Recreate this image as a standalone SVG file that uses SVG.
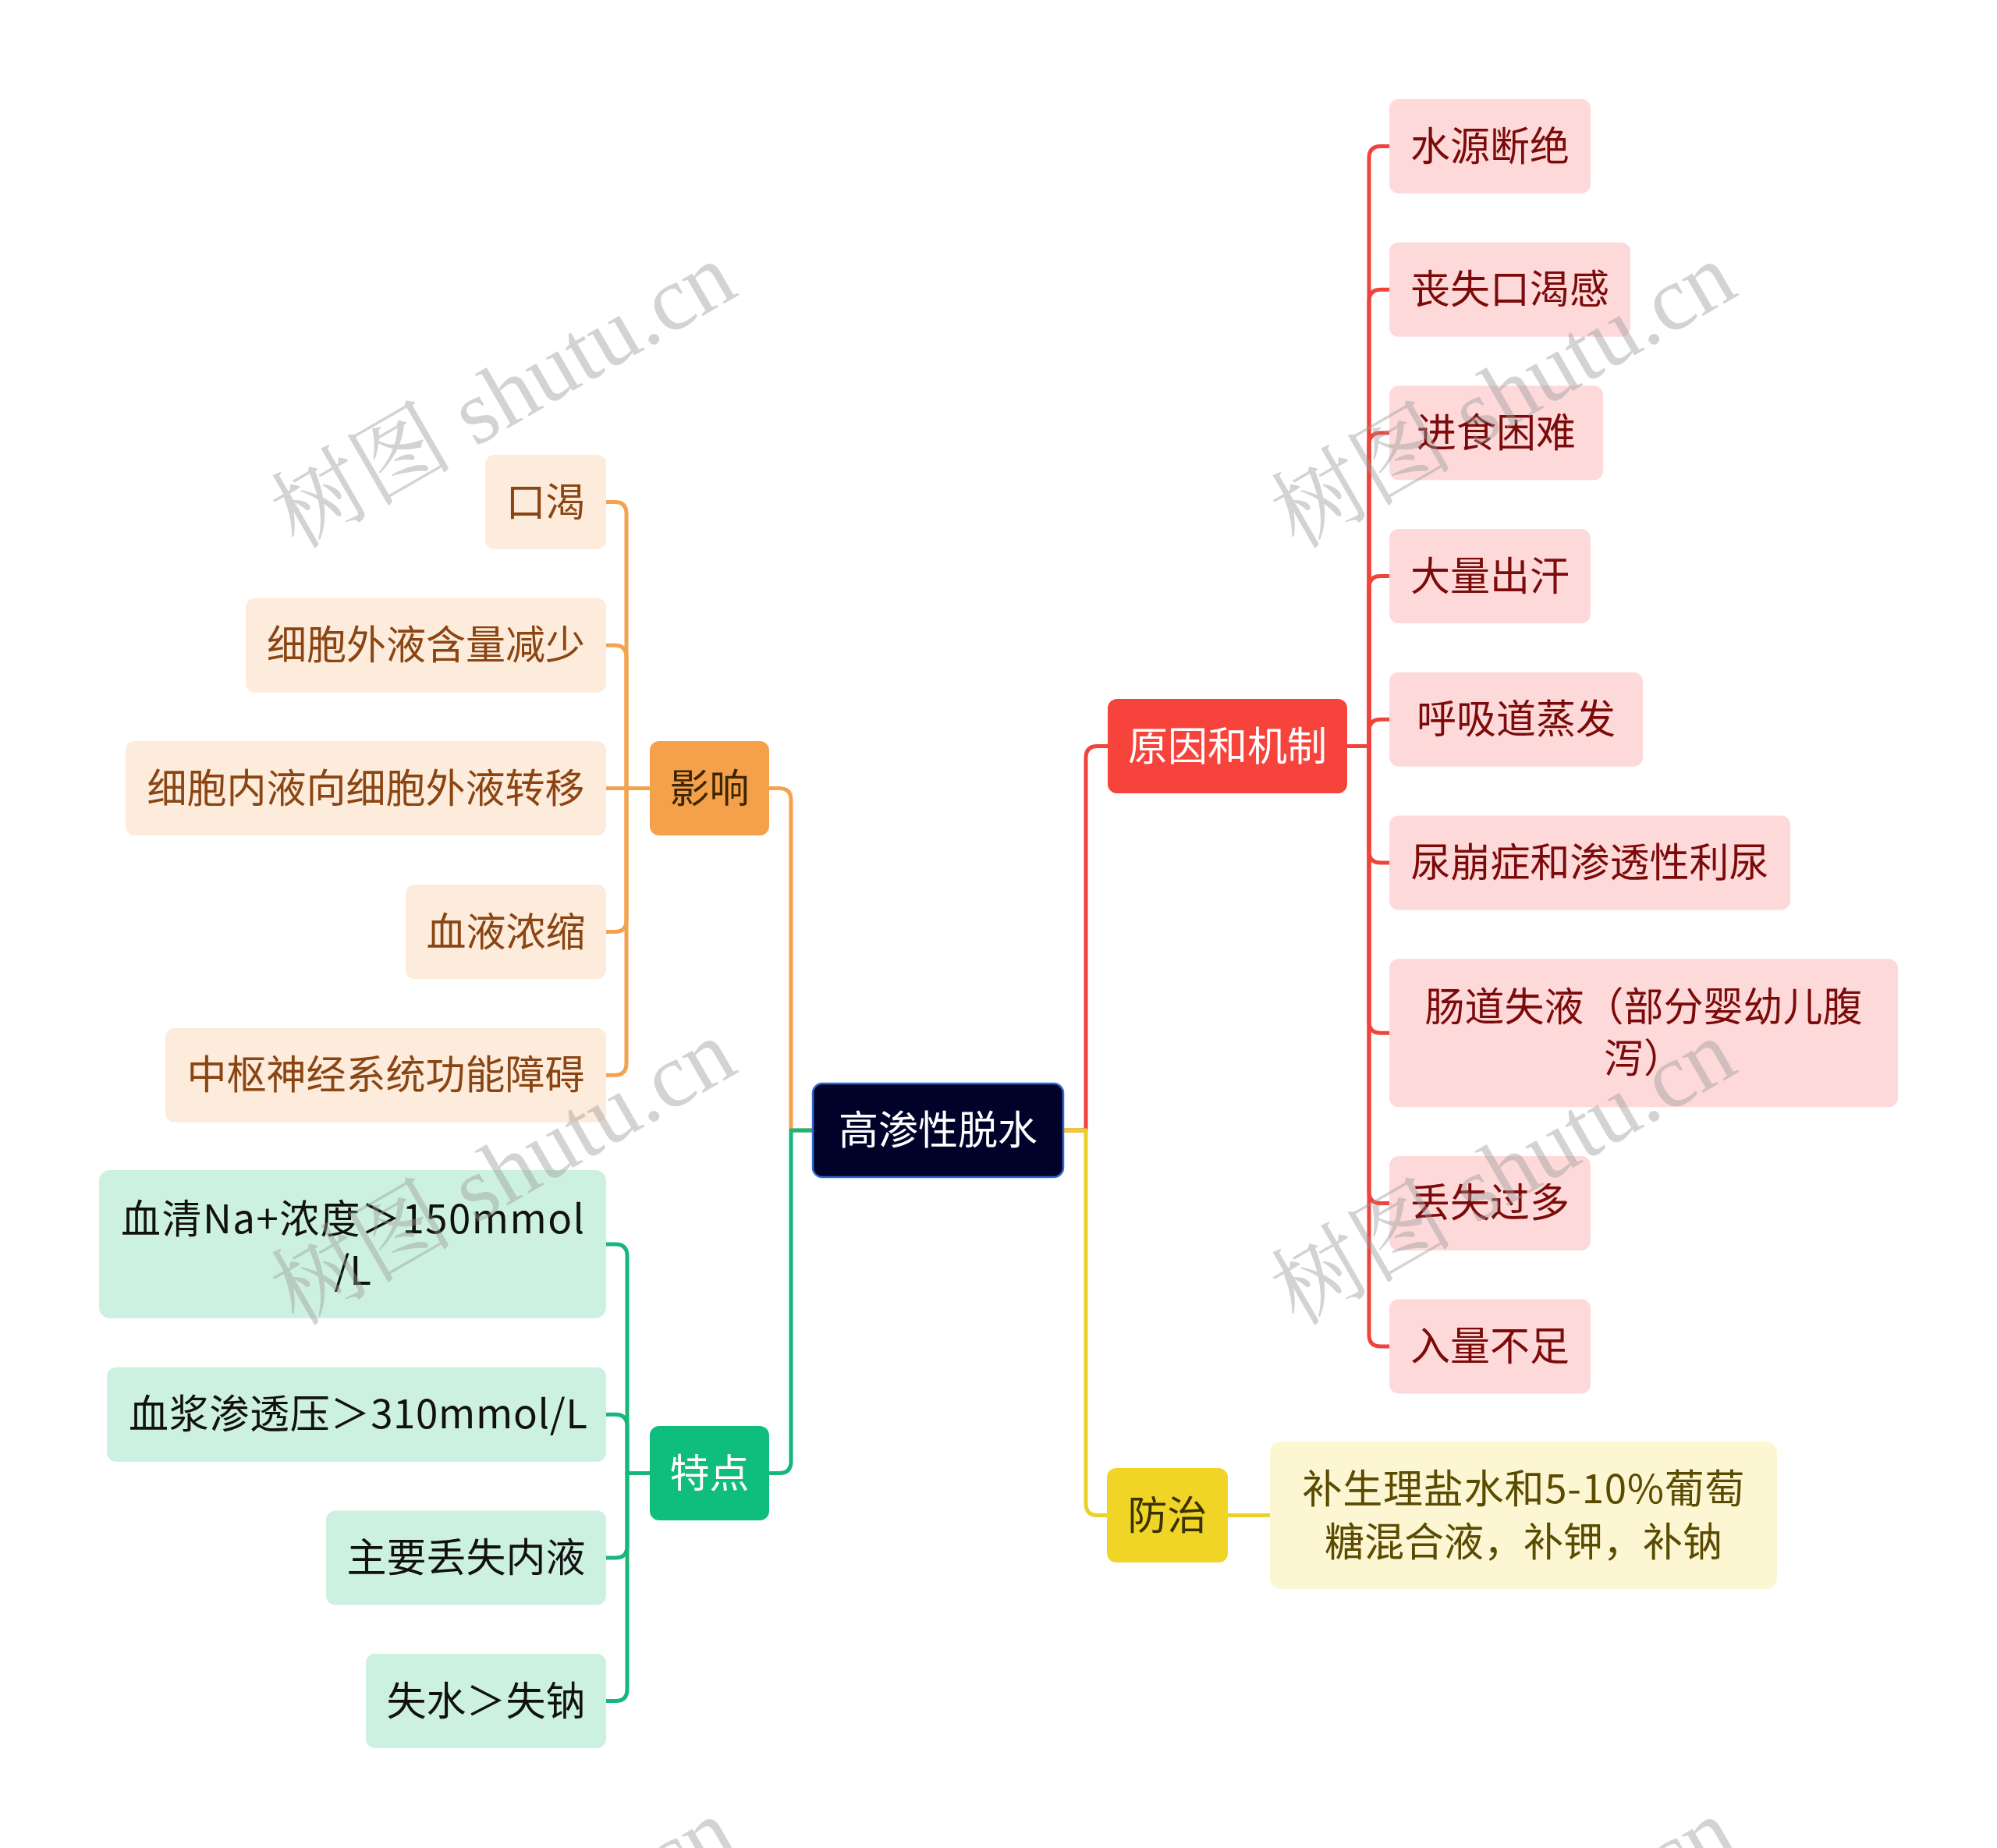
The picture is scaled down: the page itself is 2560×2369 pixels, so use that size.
<svg xmlns="http://www.w3.org/2000/svg" width="2560" height="2369" viewBox="0 0 2560 2369">
<style>
text{font-family:"Noto Sans CJK SC","Microsoft YaHei",sans-serif;font-size:51px;text-anchor:middle}
.ln{fill:none;stroke-width:5;stroke-linecap:round;stroke-linejoin:round}
.red{stroke:#f0433b}.org{stroke:#f3a24e}.grn{stroke:#15b77a}.yel{stroke:#ecd02a}
.lr{fill:#fddad9}.tr{fill:#7c0a0a}
.lo{fill:#fdebdb}.to{fill:#8b4513}
.lg{fill:#cdf1e1}.tg{fill:#111111}
.ly{fill:#fcf6d3}.ty{fill:#5b4b00}
.wm{font-family:"Liberation Serif","Noto Serif CJK SC","Noto Sans CJK SC",serif;font-size:117px;fill:#999999;opacity:0.42}
</style>
<rect width="2560" height="2369" fill="#ffffff"/>
<g id="connectors">
<path class="ln red" d="M1363 1449 H1392 V971.5 Q1392 956.5 1407 956.5 H1420"/>
<path class="ln yel" d="M1363 1449 H1392 V1927.5 Q1392 1942.5 1407 1942.5 H1419"/>
<path class="ln yel" d="M1574 1942.5 H1628"/>
<path class="ln org" d="M1042 1449 H1014 V1025.5 Q1014 1010.5 999 1010.5 H986"/>
<path class="ln grn" d="M1042 1449 H1014 V1873.5 Q1014 1888.5 999 1888.5 H986"/>
<path class="ln org" d="M833 1010.5 H803 V658.5 Q803 643.5 788 643.5 H777"/>
<path class="ln org" d="M833 1010.5 H803 V842.2 Q803 827.2 788 827.2 H777"/>
<path class="ln org" d="M833 1010.5 H777"/>
<path class="ln org" d="M833 1010.5 H803 V1179.5 Q803 1194.5 788 1194.5 H777"/>
<path class="ln org" d="M833 1010.5 H803 V1363.3 Q803 1378.3 788 1378.3 H777"/>
<path class="ln grn" d="M833 1888.5 H804 V1610 Q804 1595 789 1595 H777"/>
<path class="ln grn" d="M833 1888.5 H804 V1828.2 Q804 1813.2 789 1813.2 H777"/>
<path class="ln grn" d="M833 1888.5 H804 V1981.9 Q804 1996.9 789 1996.9 H777"/>
<path class="ln grn" d="M833 1888.5 H804 V2165.6 Q804 2180.6 789 2180.6 H777"/>
<path class="ln red" d="M1727 956.5 H1755 V202.5 Q1755 187.5 1770 187.5 H1781"/>
<path class="ln red" d="M1727 956.5 H1755 V386.2 Q1755 371.2 1770 371.2 H1781"/>
<path class="ln red" d="M1727 956.5 H1755 V569.9 Q1755 554.9 1770 554.9 H1781"/>
<path class="ln red" d="M1727 956.5 H1755 V753.5 Q1755 738.5 1770 738.5 H1781"/>
<path class="ln red" d="M1727 956.5 H1755 V937.3 Q1755 922.3 1770 922.3 H1781"/>
<path class="ln red" d="M1727 956.5 H1755 V1091 Q1755 1106 1770 1106 H1781"/>
<path class="ln red" d="M1727 956.5 H1755 V1309.2 Q1755 1324.2 1770 1324.2 H1781"/>
<path class="ln red" d="M1727 956.5 H1755 V1527.4 Q1755 1542.4 1770 1542.4 H1781"/>
<path class="ln red" d="M1727 956.5 H1755 V1711.1 Q1755 1726.1 1770 1726.1 H1781"/>
</g>
<g id="root"><rect x="1042" y="1389" width="321" height="120" rx="12" fill="#00022a" stroke="#2f6bd1" stroke-width="2.5"/><text x="1202.5" y="1467" fill="#ffffff">高渗性脱水</text></g>
<g id="n-yuanyin"><rect x="1420" y="896" width="307" height="121" rx="12" fill="#f6433b"/><text x="1573.5" y="974.5" fill="#ffffff">原因和机制</text></g>
<g id="n-fangzhi"><rect x="1419" y="1882" width="155" height="121" rx="12" fill="#f0d426"/><text x="1496.5" y="1960.5" fill="#3a3100">防治</text></g>
<g id="n-yingxiang"><rect x="833" y="950" width="153" height="121" rx="12" fill="#f5a04b"/><text x="909.5" y="1028.5" fill="#3b2600">影响</text></g>
<g id="n-tedian"><rect x="833" y="1828" width="153" height="121" rx="12" fill="#0fbe7c"/><text x="909.5" y="1906.5" fill="#ffffff">特点</text></g>

<g id="r1"><rect class="lr" x="1781" y="127" width="258" height="121" rx="12"/><text class="tr" x="1910" y="205.5">水源断绝</text></g>
<g id="r2"><rect class="lr" x="1781" y="310.7" width="309" height="121" rx="12"/><text class="tr" x="1935.5" y="389.2">丧失口渴感</text></g>
<g id="r3"><rect class="lr" x="1781" y="494.4" width="274" height="121" rx="12"/><text class="tr" x="1918" y="572.9">进食困难</text></g>
<g id="r4"><rect class="lr" x="1781" y="678" width="258" height="121" rx="12"/><text class="tr" x="1910" y="756.5">大量出汗</text></g>
<g id="r5"><rect class="lr" x="1781" y="861.8" width="325" height="121" rx="12"/><text class="tr" x="1943.5" y="940.3">呼吸道蒸发</text></g>
<g id="r6"><rect class="lr" x="1781" y="1045.5" width="514" height="121" rx="12"/><text class="tr" x="2038" y="1124">尿崩症和渗透性利尿</text></g>
<g id="r7"><rect class="lr" x="1781" y="1229.2" width="652" height="190" rx="12"/><text class="tr" x="2107" y="1309">肠道失液（部分婴幼儿腹</text><text class="tr" x="2107" y="1375">泻）</text></g>
<g id="r8"><rect class="lr" x="1781" y="1481.9" width="258" height="121" rx="12"/><text class="tr" x="1910" y="1560.4">丢失过多</text></g>
<g id="r9"><rect class="lr" x="1781" y="1665.6" width="258" height="121" rx="12"/><text class="tr" x="1910" y="1744.1">入量不足</text></g>

<g id="y1"><rect class="ly" x="1628" y="1848" width="650" height="189" rx="14"/><text class="ty" x="1953" y="1927" textLength="567" lengthAdjust="spacing">补生理盐水和5-10%葡萄</text><text class="ty" x="1953" y="1995">糖混合液，补钾，补钠</text></g>

<g id="o1"><rect class="lo" x="622" y="583" width="155" height="121" rx="12"/><text class="to" x="699.5" y="661.5">口渴</text></g>
<g id="o2"><rect class="lo" x="315" y="766.7" width="462" height="121" rx="12"/><text class="to" x="546" y="845.2">细胞外液含量减少</text></g>
<g id="o3"><rect class="lo" x="161" y="950" width="616" height="121" rx="12"/><text class="to" x="469" y="1028.5">细胞内液向细胞外液转移</text></g>
<g id="o4"><rect class="lo" x="520" y="1134" width="257" height="121" rx="12"/><text class="to" x="648.5" y="1212.5">血液浓缩</text></g>
<g id="o5"><rect class="lo" x="212" y="1317.8" width="565" height="121" rx="12"/><text class="to" x="494.5" y="1396.3">中枢神经系统功能障碍</text></g>

<g id="g1"><rect class="lg" x="127" y="1500" width="650" height="190" rx="14"/><text class="tg" x="452" y="1581" textLength="594" lengthAdjust="spacing">血清Na+浓度＞150mmol</text><text class="tg" x="452" y="1647">/L</text></g>
<g id="g2"><rect class="lg" x="137" y="1752.7" width="640" height="121" rx="12"/><text class="tg" x="459" y="1831.2" textLength="588" lengthAdjust="spacing">血浆渗透压＞310mmol/L</text></g>
<g id="g3"><rect class="lg" x="418" y="1936.4" width="359" height="121" rx="12"/><text class="tg" x="597.5" y="2014.9">主要丢失内液</text></g>
<g id="g4"><rect class="lg" x="469" y="2120" width="308" height="121" rx="12"/><text class="tg" x="623" y="2198.5">失水＞失钠</text></g>

<g id="watermarks">
<text class="wm" transform="translate(665 541) rotate(-30)">树图 shutu.cn</text>
<text class="wm" transform="translate(1947 541) rotate(-30)">树图 shutu.cn</text>
<text class="wm" transform="translate(665 1537) rotate(-30)">树图 shutu.cn</text>
<text class="wm" transform="translate(1947 1537) rotate(-30)">树图 shutu.cn</text>
<text class="wm" transform="translate(665 2535) rotate(-30)">树图 shutu.cn</text>
<text class="wm" transform="translate(1947 2535) rotate(-30)">树图 shutu.cn</text>
</g>
</svg>
